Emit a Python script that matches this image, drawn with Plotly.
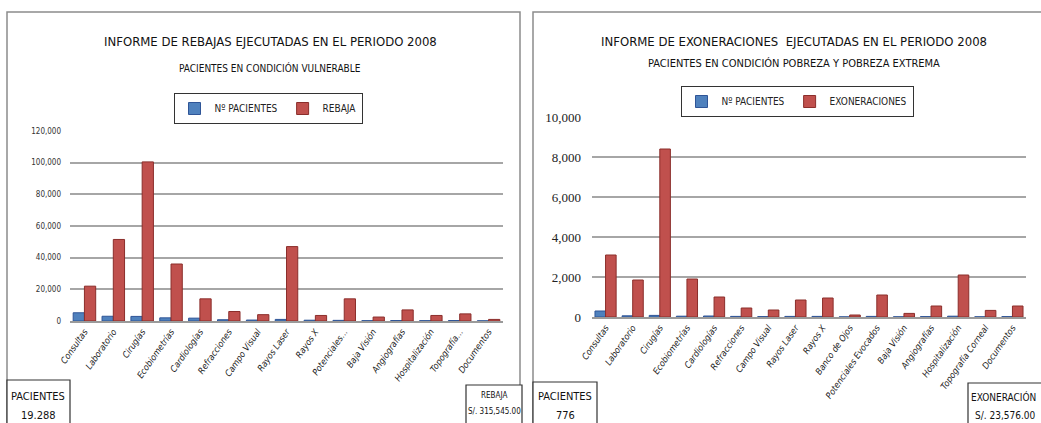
import plotly.graph_objects as go

W, H = 1041, 423

# ---------------- data ----------------
cats_left = ["Consultas", "Laboratorio", "Cirugías", "Ecobiometrías", "Cardiologías",
             "Refracciones", "Campo Visual", "Rayos Laser", "Rayos X", "Potenciales...",
             "Baja Visión", "Angiografías", "Hospitalización", "Topografía...", "Documentos"]
pacientes_left = [5200, 3000, 2900, 2000, 1800, 800, 600, 1000, 500, 400, 200, 300, 200, 300, 100]
rebaja_left = [22000, 51500, 100500, 36000, 14000, 6000, 4000, 47000, 3500, 14000, 2500, 7000, 3500, 4500, 1000]

cats_right = ["Consultas", "Laboratorio", "Cirugías", "Ecobiometrías", "Cardiologías",
              "Refracciones", "Campo Visual", "Rayos Laser", "Rayos X", "Banco de Ojos",
              "Potenciales Evocados", "Baja Visión", "Angiografías", "Hospitalización",
              "Topografía Corneal", "Documentos"]
pacientes_right = [300, 60, 80, 40, 50, 30, 20, 30, 30, 5, 30, 10, 20, 40, 10, 20]
exoner_right = [3100, 1850, 8400, 1900, 1000, 450, 350, 850, 950, 100, 1100, 180, 550, 2100, 330, 550]

left_ticks = [0, 20000, 40000, 60000, 80000, 100000, 120000]
right_ticks = [0, 2000, 4000, 6000, 8000, 10000]

BLUE = "#4F81BD"
RED = "#C0504D"
NARROW = "DejaVu Sans Condensed, Liberation Sans Narrow, sans-serif"

def px(x):
    return x / W

def py(y):
    return 1 - y / H

fig = go.Figure()

fig.add_trace(go.Bar(x=cats_left, y=pacientes_left, name="Nº PACIENTES", marker_color=BLUE,
                     marker_line=dict(color="#2F5597", width=1), xaxis="x", yaxis="y", legend="legend"))
fig.add_trace(go.Bar(x=cats_left, y=rebaja_left, name="REBAJA", marker_color=RED,
                     marker_line=dict(color="#8B2E2B", width=1), xaxis="x", yaxis="y", legend="legend"))
fig.add_trace(go.Bar(x=cats_right, y=pacientes_right, name="Nº PACIENTES", marker_color=BLUE,
                     marker_line=dict(color="#2F5597", width=1), xaxis="x2", yaxis="y2", legend="legend2"))
fig.add_trace(go.Bar(x=cats_right, y=exoner_right, name="EXONERACIONES", marker_color=RED,
                     marker_line=dict(color="#8B2E2B", width=1), xaxis="x2", yaxis="y2", legend="legend2"))

tickfont_x = dict(family=NARROW, size=9, color="#222", style="italic")

fig.update_layout(
    width=W, height=H, autosize=False,
    margin=dict(l=0, r=0, t=0, b=0, pad=0, autoexpand=False),
    paper_bgcolor="white", plot_bgcolor="white",
    barmode="group", bargap=0.22, bargroupgap=0.0,
    font=dict(family=NARROW, color="#222"),
    xaxis=dict(domain=[px(70), px(503)], anchor="y", tickangle=-55, tickfont=tickfont_x, automargin=False,
               showgrid=False, showline=True, linecolor="#9a9a9a", linewidth=2, ticks=""),
    yaxis=dict(domain=[py(321), py(131)], anchor="x", range=[0, 120000], tickvals=left_ticks, automargin=False,
               tickformat=",", tickfont=dict(family=NARROW, size=8, color="#333"),
               showgrid=True, gridcolor="#a6a6a6", gridwidth=2, zeroline=False,
               showline=False, ticks="", ticklabelstandoff=8),
    xaxis2=dict(domain=[px(592), px(1026)], anchor="y2", tickangle=-55, tickfont=tickfont_x, automargin=False,
                showgrid=False, showline=True, linecolor="#9a9a9a", linewidth=2, ticks=""),
    yaxis2=dict(domain=[py(317), py(117)], anchor="x2", range=[0, 10000], tickvals=right_ticks, automargin=False,
                tickformat=",", tickfont=dict(family="Liberation Serif, DejaVu Serif, serif", size=13, color="#222"),
                showgrid=True, gridcolor="#a6a6a6", gridwidth=2, zeroline=False,
                showline=False, ticks="", ticklabelstandoff=10),
    legend=dict(orientation="h", x=px(268), y=py(93), xanchor="center", yanchor="top",
                bordercolor="#333", borderwidth=1, bgcolor="white",
                font=dict(family=NARROW, size=10, color="#222"), itemwidth=30,
                tracegroupgap=0, itemclick=False),
    legend2=dict(orientation="h", x=px(797), y=py(86), xanchor="center", yanchor="top",
                 bordercolor="#333", borderwidth=1, bgcolor="white",
                 font=dict(family=NARROW, size=10, color="#222"), itemwidth=30,
                 tracegroupgap=0, itemclick=False),
    showlegend=True,
)

shapes = []
shapes.append(dict(type="rect", xref="paper", yref="paper", x0=px(7), x1=px(520), y0=py(430), y1=py(12),
                   line=dict(color="#8c8c8c", width=1.5), fillcolor="rgba(0,0,0,0)", layer="below"))
shapes.append(dict(type="rect", xref="paper", yref="paper", x0=px(533), x1=px(1045), y0=py(430), y1=py(12),
                   line=dict(color="#8c8c8c", width=1.5), fillcolor="rgba(0,0,0,0)", layer="below"))
shapes.append(dict(type="rect", xref="paper", yref="paper", x0=px(7), x1=px(70), y0=py(430), y1=py(380),
                   line=dict(color="#333", width=1.2), fillcolor="white"))
shapes.append(dict(type="rect", xref="paper", yref="paper", x0=px(466), x1=px(522), y0=py(430), y1=py(385),
                   line=dict(color="#333", width=1.2), fillcolor="white"))
shapes.append(dict(type="rect", xref="paper", yref="paper", x0=px(533), x1=px(597), y0=py(430), y1=py(382),
                   line=dict(color="#333", width=1.2), fillcolor="white"))
shapes.append(dict(type="rect", xref="paper", yref="paper", x0=px(968), x1=px(1045), y0=py(430), y1=py(383),
                   line=dict(color="#333", width=1.2), fillcolor="white"))
fig.update_layout(shapes=shapes)

def ann(text, x, y, size, family=NARROW, xanchor="center"):
    fig.add_annotation(text=text, x=px(x), y=py(y), xref="paper", yref="paper", showarrow=False,
                       xanchor=xanchor, yanchor="middle", font=dict(family=family, size=size, color="#111"))

ann("INFORME DE REBAJAS EJECUTADAS EN EL PERIODO 2008", 270, 41, 13)
ann("PACIENTES EN CONDICIÓN VULNERABLE", 270, 68, 10)
ann("INFORME DE EXONERACIONES  EJECUTADAS EN EL PERIODO 2008", 794, 41, 13)
ann("PACIENTES EN CONDICIÓN POBREZA Y POBREZA EXTREMA", 794, 63, 11)

ann("PACIENTES", 38, 396, 11)
ann("19.288", 38, 415, 11)
ann("REBAJA", 494, 395, 8)
ann("S/. 315,545.00", 494, 411, 8)
ann("PACIENTES", 565, 396, 11)
ann("776", 565, 415, 11)
ann("EXONERACIÓN", 1038, 397, 10, xanchor="right")
ann("S/. 23,576.00", 1038, 415, 10, xanchor="right")

fig.write_html("out.html", config={"displayModeBar": False},
               post_script="document.body.style.margin='0';")
